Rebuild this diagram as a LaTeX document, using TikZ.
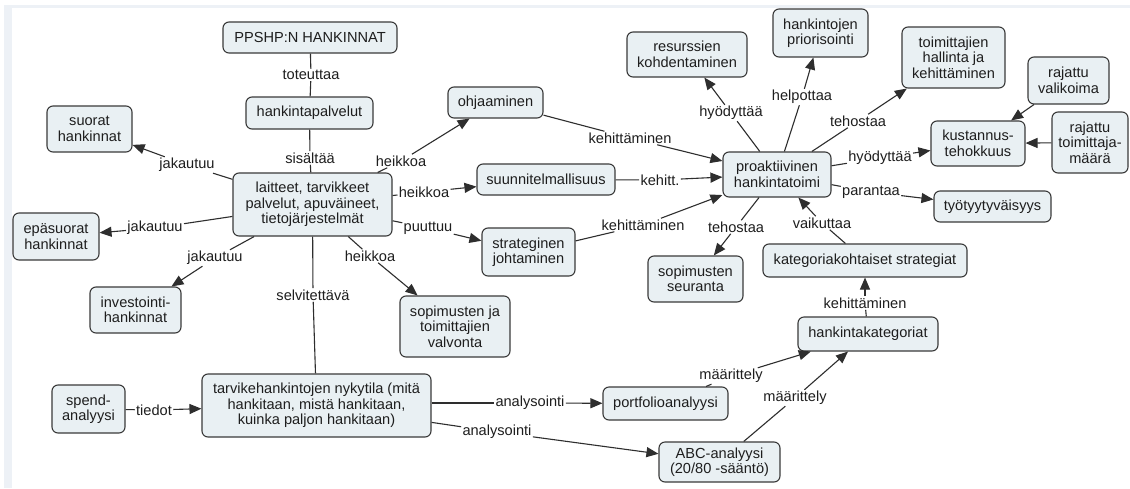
\documentclass[tikz,border=0pt]{standalone}
\usepackage{fontspec}
\setmainfont{Liberation Sans}
\usetikzlibrary{arrows.meta}
\definecolor{boxfill}{HTML}{E9F0F3}
\definecolor{boxline}{HTML}{3A3A3A}
\definecolor{linkcol}{HTML}{2E2E2E}
\definecolor{txt}{HTML}{1E1E1E}
\definecolor{edgeband}{HTML}{EDF1F6}

\begin{document}
\begin{tikzpicture}[x=1pt,y=-1pt,
  concept/.style={draw=boxline, fill=boxfill, line width=1.1pt, rounded corners=6pt,
    align=center, inner sep=0pt, text=txt, font=\fontsize{14.6}{15.5}\selectfont},
  linklabel/.style={inner sep=1.2pt, text=txt, fill=white, font=\fontsize{14.6}{15.5}\selectfont},
  link/.style={draw=linkcol, line width=1.1pt},
  arr/.style={link, -{Triangle[length=12pt,width=10pt]}},
]
\useasboundingbox (0,0) rectangle (1130,488);
\fill[white] (0,0) rectangle (1130,488);
\fill[edgeband] (4,5) rectangle (12,488);
\fill[edgeband] (4,5) rectangle (1130,8);

% concepts
\node[concept, minimum width=174pt, minimum height=31pt] (ppshp) at (310,37.5) {PPSHP:N HANKINNAT};
\node[concept, minimum width=127pt, minimum height=32pt] (hpalv) at (309.5,113) {hankintapalvelut};
\node[concept, minimum width=85pt, minimum height=46pt] (suorat) at (89.5,129) {suorat\\hankinnat};
\node[concept, minimum width=159pt, minimum height=63pt] (laitteet) at (312.5,204.5) {laitteet, tarvikkeet\\palvelut, apuväineet,\\tietojärjestelmät};
\node[concept, minimum width=86pt, minimum height=47pt] (epasuorat) at (56,236.5) {epäsuorat\\hankinnat};
\node[concept, minimum width=91pt, minimum height=46pt] (invest) at (135.5,310) {investointi-\\hankinnat};
\node[concept, minimum width=73pt, minimum height=48pt] (spend) at (88.5,409) {spend-\\analyysi};
\node[concept, minimum width=229pt, minimum height=63pt] (tarvike) at (316.5,405.5) {tarvikehankintojen nykytila (mitä\\hankitaan, mistä hankitaan,\\kuinka paljon hankitaan)};
\node[concept, minimum width=95pt, minimum height=31pt] (ohjaa) at (495.5,102.5) {ohjaaminen};
\node[concept, minimum width=138pt, minimum height=31pt] (suunn) at (546,179.5) {suunnitelmallisuus};
\node[concept, minimum width=93pt, minimum height=48pt] (strat) at (528.5,252) {strateginen\\johtaminen};
\node[concept, minimum width=110pt, minimum height=61pt] (valvonta) at (455,326.5) {sopimusten ja\\toimittajien\\valvonta};
\node[concept, minimum width=120pt, minimum height=45pt] (resurssi) at (687,54.5) {resurssien\\kohdentaminen};
\node[concept, minimum width=108pt, minimum height=45pt] (proak) at (777,174.5) {proaktiivinen\\hankintatoimi};
\node[concept, minimum width=95pt, minimum height=48pt] (prior) at (820.5,33) {hankintojen\\priorisointi};
\node[concept, minimum width=103pt, minimum height=61pt] (toimhal) at (953.5,57.5) {toimittajien\\hallinta ja\\kehittäminen};
\node[concept, minimum width=81pt, minimum height=47pt] (valikoima) at (1068.5,80.5) {rajattu\\valikoima};
\node[concept, minimum width=76pt, minimum height=61pt] (toimmaara) at (1090,142.5) {rajattu\\toimittaja-\\määrä};
\node[concept, minimum width=94pt, minimum height=45pt] (kust) at (978,143.5) {kustannus-\\tehokkuus};
\node[concept, minimum width=117pt, minimum height=31pt] (tyoty) at (992.5,206.5) {työtyytyväisyys};
\node[concept, minimum width=95pt, minimum height=46pt] (sopseur) at (695.5,279) {sopimusten\\seuranta};
\node[concept, minimum width=204pt, minimum height=33pt] (katstrat) at (865,260.5) {kategoriakohtaiset strategiat};
\node[concept, minimum width=140pt, minimum height=34pt] (hankat) at (868,334) {hankintakategoriat};
\node[concept, minimum width=125pt, minimum height=33pt] (portf) at (665.5,403.5) {portfolioanalyysi};
\node[concept, minimum width=121pt, minimum height=40pt] (abc) at (719.5,462) {ABC-analyysi\\(20/80 -sääntö)};

% linking phrases
\node[linklabel] (l1) at (311,75) {toteuttaa};
\node[linklabel] (l2) at (310,158) {sisältää};
\node[linklabel] (l3) at (187,165) {jakautuu};
\node[linklabel] (l4) at (155,228) {jakautuu};
\node[linklabel] (l5) at (215,258) {jakautuu};
\node[linklabel] (l6) at (401,161) {heikkoa};
\node[linklabel] (l7) at (424,192) {heikkoa};
\node[linklabel] (l8) at (428,228) {puuttuu};
\node[linklabel] (l9) at (370,256) {heikkoa};
\node[linklabel] (l10) at (313,295) {selvitettävä};
\node[linklabel] (l11) at (630,138) {kehittäminen};
\node[linklabel] (l12) at (660,180) {kehitt.};
\node[linklabel] (l13) at (643,225) {kehittäminen};
\node[linklabel] (l14) at (731,113) {hyödyttää};
\node[linklabel] (l15) at (802,97) {helpottaa};
\node[linklabel] (l16) at (858,121) {tehostaa};
\node[linklabel] (l17) at (880,158) {hyödyttää};
\node[linklabel] (l18) at (871,192) {parantaa};
\node[linklabel] (l19) at (736,227) {tehostaa};
\node[linklabel] (l20) at (822,223) {vaikuttaa};
\node[linklabel] (l21) at (865,303) {kehittäminen};
\node[linklabel] (l22) at (154,410) {tiedot};
\node[linklabel] (l23) at (530,403) {analysointi};
\node[linklabel] (l24) at (497,432) {analysointi};
\node[linklabel] (l25) at (731,376) {määrittely};
\node[linklabel] (l26) at (795,398) {määrittely};

% plain links
\draw[link] (ppshp) -- (l1); \draw[link] (l1) -- (hpalv);
\draw[link] (hpalv) -- (l2); \draw[link] (l2) -- (laitteet);
\draw[link] (laitteet) -- (l10); \draw[link] (l10) -- (tarvike);

% directed links
\draw[link] (laitteet) -- (l3); \draw[arr] (l3) -- (suorat);
\draw[link] (laitteet) -- (l4); \draw[arr] (l4) -- (epasuorat);
\draw[link] (laitteet) -- (l5); \draw[arr] (l5) -- (invest);
\draw[link] (laitteet) -- (l6); \draw[arr] (l6) -- (ohjaa);
\draw[link] (laitteet) -- (l7); \draw[arr] (l7) -- (suunn);
\draw[link] (laitteet) -- (l8); \draw[arr] (l8) -- (strat);
\draw[link] (laitteet) -- (l9); \draw[arr] (l9) -- (valvonta);
\draw[link] (ohjaa) -- (l11); \draw[arr] (l11) -- (proak);
\draw[link] (suunn) -- (l12); \draw[arr] (l12) -- (proak);
\draw[link] (strat) -- (l13); \draw[arr] (l13) -- (proak);
\draw[link] (proak) -- (l14); \draw[arr] (l14) -- (resurssi);
\draw[link] (proak) -- (l15); \draw[arr] (l15) -- (prior);
\draw[link] (proak) -- (l16); \draw[arr] (l16) -- (toimhal);
\draw[link] (proak) -- (l17); \draw[arr] (l17) -- (kust);
\draw[link] (proak) -- (l18); \draw[arr] (l18) -- (tyoty);
\draw[link] (proak) -- (l19); \draw[arr] (l19) -- (sopseur);
\draw[link] (katstrat) -- (l20); \draw[arr] (l20) -- (proak);
\draw[link] (hankat) -- (l21); \draw[arr] (l21) -- (katstrat);
\draw[arr] (valikoima) -- (kust);
\draw[arr] (toimmaara) -- (kust);
\draw[link] (spend) -- (l22); \draw[arr] (l22) -- (tarvike);
\draw[link] (tarvike.east |- l23) -- (l23); \draw[arr] (l23) -- (portf);
\draw[link] (tarvike) -- (l24); \draw[arr] (l24) -- (abc);
\draw[link] (portf) -- (l25); \draw[arr] (l25) -- (hankat);
\draw[link] (abc) -- (l26); \draw[arr] (l26) -- (hankat);
\end{tikzpicture}
\end{document}
